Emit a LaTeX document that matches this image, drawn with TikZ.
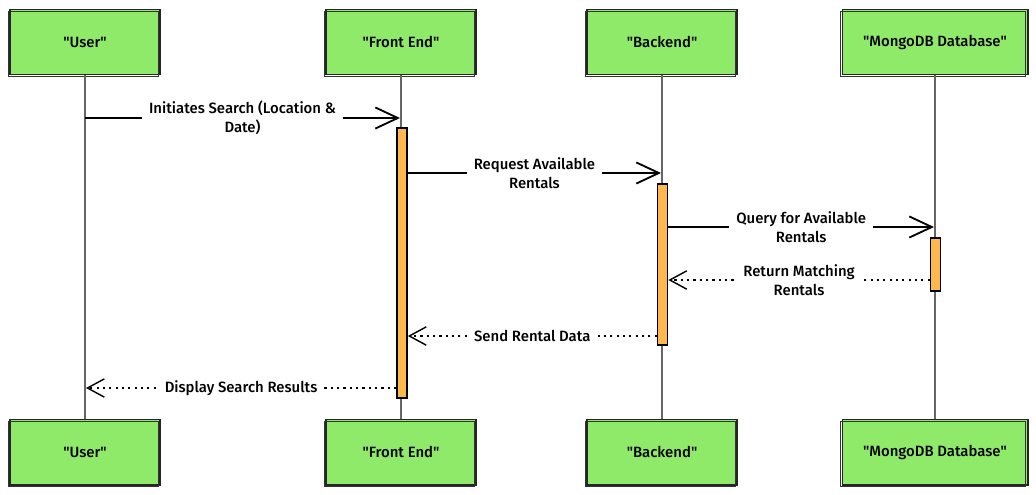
\documentclass[tikz,border=0pt]{standalone}
\usepackage{fontspec}
\setmainfont{Fira Sans}[UprightFont={* Medium}]
\usetikzlibrary{arrows.meta}
\usetikzlibrary{positioning}
\definecolor{actgreen}{RGB}{144,234,106}
\definecolor{actorange}{RGB}{255,184,77}
\newcommand{\qname}[1]{\textquotedbl#1\textquotedbl}

\begin{document}
\begin{tikzpicture}[x=0.025cm,y=-0.025cm,
  every node/.style={font=\fontsize{10.6}{13.5}\selectfont},
  actor/.style={draw=black!85,line width=1.4pt,fill=actgreen,minimum width=3.75cm,minimum height=1.625cm,
    postaction={draw=black!80,line width=0.8pt,transform canvas={shift={(-1.2pt,-1.5pt)}}}},
  activ/.style={draw=black,line width=1.2pt,fill=actorange,minimum width=0.25cm,inner sep=0pt},
  life/.style={draw=black!60,line width=0.9pt},
  msg/.style={line width=1.3pt,-{Straight Barb[length=16pt,width=15pt,line width=1.3pt]}},
  reply/.style={line width=1.2pt,dash pattern=on 1.5pt off 3pt,-{Straight Barb[length=12pt,width=13pt,line width=1pt]}},
  lbl/.style={fill=white,align=center,inner xsep=5pt,inner ysep=1pt}]
\useasboundingbox (0,0) rectangle (1036,494);

% participants
\node[actor] (user) at (85,42) {\qname{User}};
\node[actor] (frontend) at (401,42) {\qname{Front End}};
\node[actor] (backend) at (662,42) {\qname{Backend}};
\node[actor,minimum width=4.625cm] (mongodb) at (935,42) {\qname{MongoDB Database}};

\node[actor] (userB) at (85,452) {\qname{User}};
\node[actor] (frontendB) at (401,452) {\qname{Front End}};
\node[actor] (backendB) at (662,452) {\qname{Backend}};
\node[actor,minimum width=4.625cm] (mongodbB) at (935,452) {\qname{MongoDB Database}};

% lifelines
\draw[life] (user)--(userB); \draw[life] (frontend)--(frontendB);
\draw[life] (backend)--(backendB); \draw[life] (mongodb)--(mongodbB);

% activations
\node[activ,minimum height=6.75cm] (actfe) at (402,263) {};
\node[activ,minimum height=4.025cm] (actbe) at (662.5,264.5) {};
\node[activ,minimum height=1.325cm] (actdb) at (935.5,264.5) {};

% message end points
\coordinate (m1a) at (85,118); \coordinate (m1b) at (400,118);
\coordinate (m2a) at (actfe.east |- 0,173); \coordinate (m2b) at (661,173);
\coordinate (m3a) at (actbe.east |- 0,227); \coordinate (m3b) at (934,227);
\coordinate (m4a) at (actdb.west |- 0,280); \coordinate (m4b) at (actbe.east |- 0,280);
\coordinate (m5a) at (actbe.west |- 0,336); \coordinate (m5b) at (actfe.east |- 0,336);
\coordinate (m6a) at (actfe.west |- 0,388); \coordinate (m6b) at (86,388);

% messages
\draw[msg] (m1a)--node[lbl]{Initiates Search (Location \&\\Date)}(m1b);
\draw[msg] (m2a)--node[lbl]{Request Available\\Rentals}(m2b);
\draw[msg] (m3a)--node[lbl]{Query for Available\\Rentals}(m3b);
\draw[reply] (m4a)--node[lbl]{Return Matching\\Rentals}(m4b);
\draw[reply] (m5a)--node[lbl]{Send Rental Data}(m5b);
\draw[reply] (m6a)--node[lbl]{Display Search Results}(m6b);
\end{tikzpicture}
\end{document}
